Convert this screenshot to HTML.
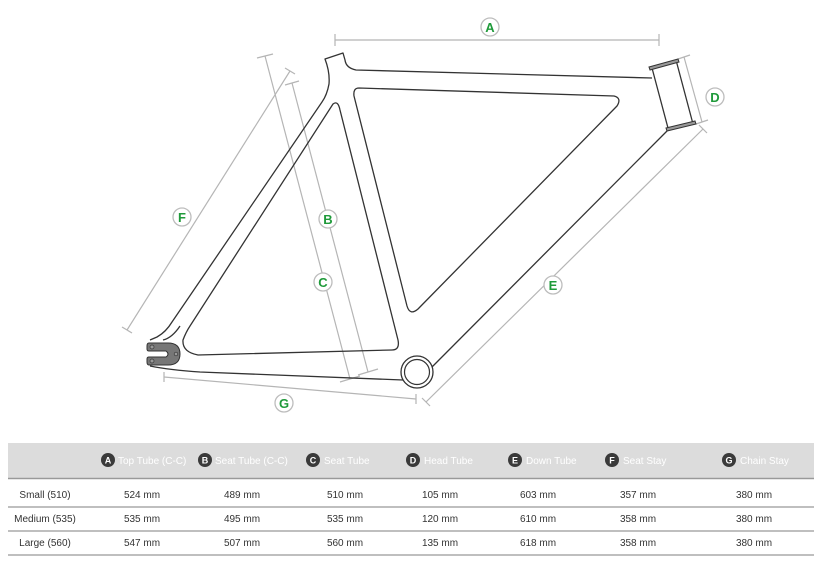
<!DOCTYPE html>
<html><head><meta charset="utf-8"><style>
html,body{margin:0;padding:0;background:#fff;width:822px;height:570px;overflow:hidden}
svg{display:block}
text{font-family:"Liberation Sans",sans-serif}
</style></head><body>
<svg width="822" height="570" viewBox="0 0 822 570" xmlns="http://www.w3.org/2000/svg">
<g stroke="#b5b5b5" stroke-width="1.2" fill="none">
  <line x1="335" y1="40" x2="659" y2="40"/><line x1="335" y1="34" x2="335" y2="46"/><line x1="659" y1="34" x2="659" y2="46"/>
  <line x1="684" y1="57" x2="702" y2="122"/><line x1="678" y1="59" x2="690" y2="55"/><line x1="696" y1="124" x2="708" y2="120"/>
  <line x1="703" y1="129" x2="426" y2="402"/><line x1="699" y1="125" x2="707" y2="133"/><line x1="422" y1="398" x2="430" y2="406"/>
  <line x1="290" y1="71" x2="127" y2="330"/><line x1="285" y1="68" x2="295" y2="74"/><line x1="122" y1="327" x2="132" y2="333"/>
  <line x1="265" y1="56" x2="350" y2="379"/><line x1="257" y1="58" x2="273" y2="54"/><line x1="340" y1="382" x2="360" y2="376"/>
  <line x1="292" y1="83" x2="368" y2="372"/><line x1="285" y1="85" x2="299" y2="81"/><line x1="358" y1="375" x2="378" y2="369"/>
  <line x1="164" y1="377" x2="416" y2="399"/><line x1="164" y1="372" x2="164" y2="382"/><line x1="416" y1="394" x2="416" y2="404"/>
</g>
<g stroke="#333" stroke-width="1.3" fill="none" stroke-linejoin="round">
  <path d="M652,78 L356,70 Q346,68 345,60 L343,53 L325,59 Q330,72 329,84 Q327,95 322,102 L172,322 Q166,332 157,337 L150,340"/>
  <path d="M150,366 Q170,370 200,372 L403,380"/>
  <path d="M667,131 L431,368"/>
  <path d="M359,88 L614,96 Q622,98 617,106 L418,309 Q410,316 407,306 L354,96 Q353,88 359,88 Z"/>
  <path d="M333,104 Q338,100 340,110 L398,340 Q400,350 392,350 L198,355 Q182,352 183,340 Q186,332 190,326 Z"/>
  <path d="M163,340 Q172,338 180,326"/>
  <line x1="652" y1="68" x2="668" y2="128"/><line x1="676" y1="60" x2="693" y2="124"/>
</g>
<g stroke="#333" stroke-width="1" fill="#999">
  <path d="M649,67 L678,59 L679,62 L650,70 Z"/>
  <path d="M666,128 L695,121 L696,124 L667,131 Z"/>
</g>
<circle cx="417" cy="372" r="16" fill="#fff" stroke="#333" stroke-width="1.3"/>
<circle cx="417" cy="372" r="12.5" fill="none" stroke="#333" stroke-width="1.2"/>
<path d="M149,343 L168,343 Q180,343 180,354 Q180,365 168,365 L149,365 Q147,365 147,362 L147,359 Q147,357 149,357 L166,357 Q170,354 166,351 L149,351 Q147,351 147,349 L147,346 Q147,343 149,343 Z" fill="#777" stroke="#333" stroke-width="1"/>
<circle cx="152" cy="347" r="2" fill="#999" stroke="#333" stroke-width="0.7"/>
<circle cx="152" cy="361" r="2" fill="#999" stroke="#333" stroke-width="0.7"/>
<circle cx="176" cy="354" r="1.8" fill="#999" stroke="#333" stroke-width="0.7"/>
<g font-weight="bold" font-size="13" fill="#1f9a3a" text-anchor="middle">
  <g stroke="#bdbdbd" stroke-width="1.3" fill="#fff">
    <circle cx="490" cy="27" r="9"/><circle cx="715" cy="97" r="9"/><circle cx="553" cy="285" r="9"/>
    <circle cx="182" cy="217" r="9"/><circle cx="328" cy="219" r="9"/><circle cx="323" cy="282" r="9"/><circle cx="284" cy="403" r="9"/>
  </g>
  <text x="490" y="32">A</text><text x="715" y="102">D</text><text x="553" y="290">E</text>
  <text x="182" y="222">F</text><text x="328" y="224">B</text><text x="323" y="287">C</text><text x="284" y="408">G</text>
</g>
<rect x="8" y="443" width="806" height="35" fill="#dcdcdc"/>
<line x1="8" y1="478.5" x2="814" y2="478.5" stroke="#999" stroke-width="1.5"/>
<g stroke="#aaa" stroke-width="1.5">
  <line x1="8" y1="507" x2="814" y2="507"/><line x1="8" y1="531" x2="814" y2="531"/><line x1="8" y1="555" x2="814" y2="555"/>
</g>
<g font-size="9" font-weight="bold" text-anchor="middle">
  <g fill="#3a3a3a"><circle cx="108" cy="460" r="7"/><circle cx="205" cy="460" r="7"/><circle cx="313" cy="460" r="7"/><circle cx="413" cy="460" r="7"/><circle cx="515" cy="460" r="7"/><circle cx="612" cy="460" r="7"/><circle cx="729" cy="460" r="7"/></g>
  <g fill="#fff"><text x="108" y="463.5">A</text><text x="205" y="463.5">B</text><text x="313" y="463.5">C</text><text x="413" y="463.5">D</text><text x="515" y="463.5">E</text><text x="612" y="463.5">F</text><text x="729" y="463.5">G</text></g>
</g>
<g font-size="10" fill="#fff" text-anchor="start">
  <text x="118" y="464">Top Tube (C-C)</text><text x="215" y="464">Seat Tube (C-C)</text><text x="324" y="464">Seat Tube</text><text x="424" y="464">Head Tube</text><text x="526" y="464">Down Tube</text><text x="623" y="464">Seat Stay</text><text x="740" y="464">Chain Stay</text>
</g>
<g font-size="10" fill="#333" text-anchor="middle">
  <text x="45" y="498">Small (510)</text><text x="142" y="498">524 mm</text><text x="242" y="498">489 mm</text><text x="345" y="498">510 mm</text><text x="440" y="498">105 mm</text><text x="538" y="498">603 mm</text><text x="638" y="498">357 mm</text><text x="754" y="498">380 mm</text>
  <text x="45" y="522">Medium (535)</text><text x="142" y="522">535 mm</text><text x="242" y="522">495 mm</text><text x="345" y="522">535 mm</text><text x="440" y="522">120 mm</text><text x="538" y="522">610 mm</text><text x="638" y="522">358 mm</text><text x="754" y="522">380 mm</text>
  <text x="45" y="546">Large (560)</text><text x="142" y="546">547 mm</text><text x="242" y="546">507 mm</text><text x="345" y="546">560 mm</text><text x="440" y="546">135 mm</text><text x="538" y="546">618 mm</text><text x="638" y="546">358 mm</text><text x="754" y="546">380 mm</text>
</g>
</svg>
</body></html>
